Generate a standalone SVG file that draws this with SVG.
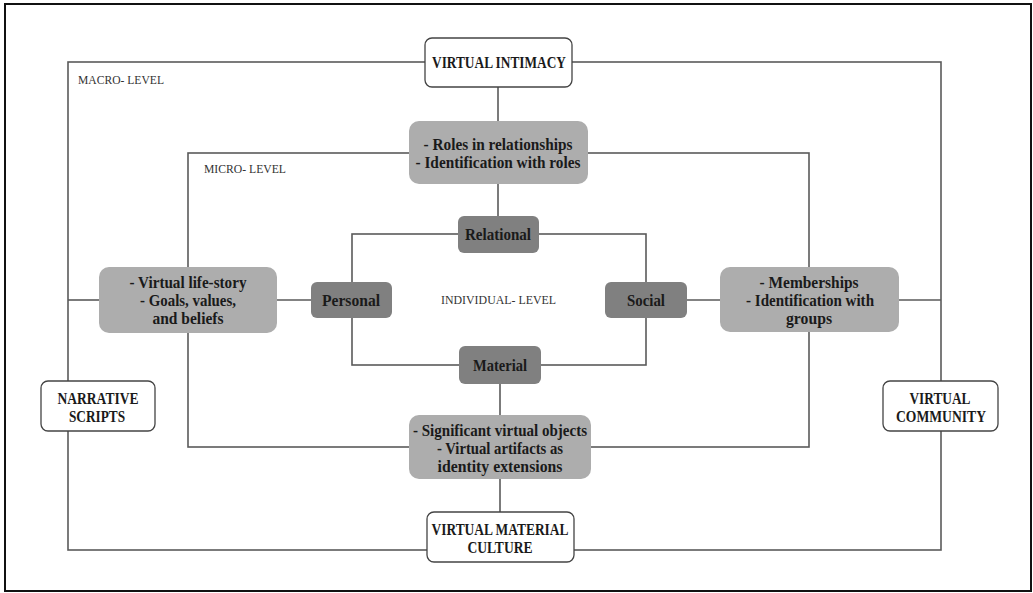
<svg xmlns="http://www.w3.org/2000/svg" width="1033" height="593" viewBox="0 0 1033 593">
<style>
.frame{fill:#fff;stroke:#111;stroke-width:2}
.ln{fill:none;stroke:#5a5a5a;stroke-width:1.6}
.white{fill:#fff;stroke:#444;stroke-width:1.3}
.light{fill:#adadad;stroke:none}
.dark{fill:#808080;stroke:none}
.t{font-family:"Liberation Serif","DejaVu Serif",serif;font-weight:bold;font-size:16px;fill:#1a1a1a;text-anchor:middle}
.lbl{font-family:"Liberation Serif","DejaVu Serif",serif;font-size:11.8px;fill:#333}
</style>
<rect class="frame" x="5" y="4" width="1026" height="587"/>
<g id="connectors">
<rect class="ln" x="68" y="62" width="873" height="488"/>
<rect class="ln" x="188" y="153" width="621" height="294"/>
<rect class="ln" x="352" y="234" width="294" height="131"/>
<line class="ln" x1="498" y1="87" x2="498" y2="121"/>
<line class="ln" x1="498" y1="184" x2="498" y2="216"/>
<line class="ln" x1="500" y1="384" x2="500" y2="415"/>
<line class="ln" x1="500" y1="479" x2="500" y2="512"/>
<line class="ln" x1="68" y1="300" x2="99" y2="300"/>
<line class="ln" x1="277" y1="300" x2="311" y2="300"/>
<line class="ln" x1="687" y1="300" x2="720" y2="300"/>
<line class="ln" x1="899" y1="300" x2="941" y2="300"/>
</g>
<text class="lbl" x="78" y="84" textLength="86" lengthAdjust="spacingAndGlyphs">MACRO- LEVEL</text>
<text class="lbl" x="204" y="173" textLength="82" lengthAdjust="spacingAndGlyphs">MICRO- LEVEL</text>
<text class="lbl" x="441" y="304" textLength="115" lengthAdjust="spacingAndGlyphs">INDIVIDUAL- LEVEL</text>
<g id="virtual-intimacy">
<rect class="white" x="425" y="38" width="147" height="49" rx="7"/>
<text class="t" x="499" y="68" textLength="134" lengthAdjust="spacingAndGlyphs">VIRTUAL INTIMACY</text>
</g>
<g id="roles">
<rect class="light" x="409" y="121" width="179" height="63" rx="10"/>
<text class="t" x="498" y="150" textLength="149" lengthAdjust="spacingAndGlyphs">- Roles in relationships</text>
<text class="t" x="498" y="168" textLength="165" lengthAdjust="spacingAndGlyphs">- Identification with roles</text>
</g>
<g id="relational">
<rect class="dark" x="458" y="216" width="81" height="37" rx="6"/>
<text class="t" x="498" y="240" textLength="66" lengthAdjust="spacingAndGlyphs">Relational</text>
</g>
<g id="life-story">
<rect class="light" x="99" y="267" width="178" height="66" rx="10"/>
<text class="t" x="188" y="288" textLength="117" lengthAdjust="spacingAndGlyphs">- Virtual life-story</text>
<text class="t" x="188" y="306" textLength="96" lengthAdjust="spacingAndGlyphs">- Goals, values,</text>
<text class="t" x="188" y="324" textLength="71" lengthAdjust="spacingAndGlyphs">and beliefs</text>
</g>
<g id="personal">
<rect class="dark" x="311" y="282" width="81" height="36" rx="6"/>
<text class="t" x="351" y="306" textLength="58" lengthAdjust="spacingAndGlyphs">Personal</text>
</g>
<g id="social">
<rect class="dark" x="605" y="282" width="82" height="36" rx="6"/>
<text class="t" x="646" y="306" textLength="38" lengthAdjust="spacingAndGlyphs">Social</text>
</g>
<g id="memberships">
<rect class="light" x="720" y="267" width="179" height="65" rx="10"/>
<text class="t" x="809" y="288" textLength="99" lengthAdjust="spacingAndGlyphs">- Memberships</text>
<text class="t" x="810" y="306" textLength="128" lengthAdjust="spacingAndGlyphs">- Identification with</text>
<text class="t" x="809" y="324" textLength="46" lengthAdjust="spacingAndGlyphs">groups</text>
</g>
<g id="material">
<rect class="dark" x="459" y="346" width="82" height="38" rx="6"/>
<text class="t" x="500" y="371" textLength="54" lengthAdjust="spacingAndGlyphs">Material</text>
</g>
<g id="significant">
<rect class="light" x="409" y="415" width="182" height="64" rx="10"/>
<text class="t" x="500" y="436" textLength="174" lengthAdjust="spacingAndGlyphs">- Significant virtual objects</text>
<text class="t" x="500" y="454" textLength="126" lengthAdjust="spacingAndGlyphs">- Virtual artifacts as</text>
<text class="t" x="500" y="472" textLength="125" lengthAdjust="spacingAndGlyphs">identity extensions</text>
</g>
<g id="narrative-scripts">
<rect class="white" x="41" y="381" width="114" height="50" rx="7"/>
<text class="t" x="98" y="404" textLength="81" lengthAdjust="spacingAndGlyphs">NARRATIVE</text>
<text class="t" x="97" y="422" textLength="56" lengthAdjust="spacingAndGlyphs">SCRIPTS</text>
</g>
<g id="virtual-community">
<rect class="white" x="883" y="381" width="115" height="50" rx="7"/>
<text class="t" x="940" y="404" textLength="61" lengthAdjust="spacingAndGlyphs">VIRTUAL</text>
<text class="t" x="941" y="422" textLength="90" lengthAdjust="spacingAndGlyphs">COMMUNITY</text>
</g>
<g id="virtual-material-culture">
<rect class="white" x="427" y="512" width="147" height="50" rx="7"/>
<text class="t" x="500" y="535" textLength="137" lengthAdjust="spacingAndGlyphs">VIRTUAL MATERIAL</text>
<text class="t" x="500" y="553" textLength="65" lengthAdjust="spacingAndGlyphs">CULTURE</text>
</g>
</svg>
